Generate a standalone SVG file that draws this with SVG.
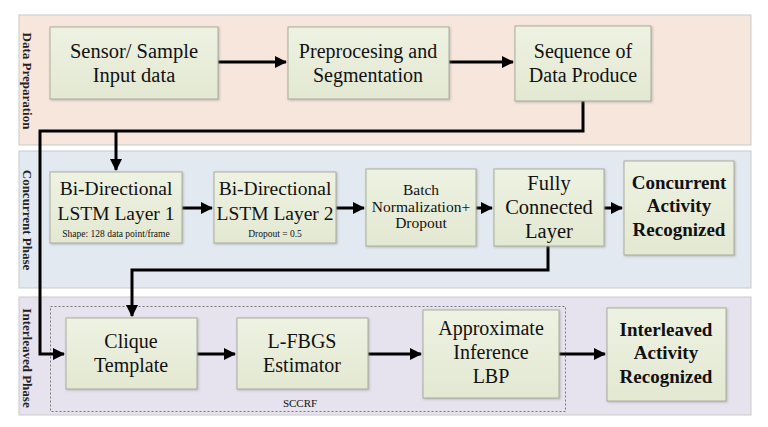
<svg xmlns="http://www.w3.org/2000/svg" width="768" height="427" viewBox="0 0 768 427">
<style>
.band{stroke:#c9c9c9;stroke-width:1}
.box{fill:url(#g);stroke:#a9ad9c;stroke-width:1;filter:url(#sh)}
.t{font-family:"Liberation Serif","DejaVu Serif",serif;fill:#111;text-anchor:middle}
.lab{font-family:"Liberation Serif","DejaVu Serif",serif;font-weight:bold;font-size:13px;fill:#222;text-anchor:middle}
.c{fill:none;stroke:#000;stroke-width:3}
</style>
<defs>
<linearGradient id="g" x1="0" y1="0" x2="0" y2="1">
<stop offset="0" stop-color="#eef2e2"/>
<stop offset="1" stop-color="#e3e8d2"/>
</linearGradient>
<filter id="sh" x="-10%" y="-10%" width="120%" height="120%">
<feDropShadow dx="1" dy="1" stdDeviation="0.8" flood-color="#888" flood-opacity="0.5"/>
</filter>
<marker id="ah" markerUnits="userSpaceOnUse" markerWidth="12" markerHeight="12" refX="11" refY="6" orient="auto">
<path d="M0,0 L12,6 L0,12 Z" fill="#000"/>
</marker>
</defs>
<rect width="768" height="427" fill="#fff"/>
<g id="bands">
<rect class="band" x="19" y="15" width="732" height="130" fill="#f6e6dc"/>
<rect class="band" x="19" y="151" width="732" height="137" fill="#e3e9f1"/>
<rect class="band" x="19" y="297" width="732" height="118" fill="#e6e3ee"/>
<rect x="50.5" y="306.5" width="515" height="105" fill="none" stroke="#777" stroke-width="1" stroke-dasharray="2,2"/>
<text class="lab" transform="translate(23,81) rotate(90)">Data Preparation</text>
<text class="lab" transform="translate(23,220) rotate(90)">Concurrent Phase</text>
<text class="lab" transform="translate(23,358) rotate(90)">Interleaved Phase</text>
<text class="t" x="300" y="407" font-size="11">SCCRF</text>
</g>
<g id="connectors">
<path class="c" d="M218,62 H286" marker-end="url(#ah)"/>
<path class="c" d="M449,62 H513" marker-end="url(#ah)"/>
<path class="c" d="M583,101 V131 H40 V354 H64" marker-end="url(#ah)"/>
<path class="c" d="M116,131 V170" marker-end="url(#ah)"/>
<path class="c" d="M182,208 H212" marker-end="url(#ah)"/>
<path class="c" d="M336,208 H364" marker-end="url(#ah)"/>
<path class="c" d="M476,208 H492" marker-end="url(#ah)"/>
<path class="c" d="M604,208 H622" marker-end="url(#ah)"/>
<path class="c" d="M548,246 V270 H132 V316" marker-end="url(#ah)"/>
<path class="c" d="M197,354 H235" marker-end="url(#ah)"/>
<path class="c" d="M368,354 H421" marker-end="url(#ah)"/>
<path class="c" d="M559,354 H605" marker-end="url(#ah)"/>
</g>
<g id="sensor">
<rect class="box" x="50" y="27" width="168" height="72"/>
<text class="t" x="134" y="58" font-size="20.5">Sensor/ Sample</text>
<text class="t" x="134" y="82" font-size="20.5">Input data</text>
</g>
<g id="preproc">
<rect class="box" x="288" y="27" width="161" height="72"/>
<text class="t" x="368" y="58" font-size="20">Preprocesing and</text>
<text class="t" x="368" y="82" font-size="20">Segmentation</text>
</g>
<g id="sequence">
<rect class="box" x="515" y="26" width="136" height="75"/>
<text class="t" x="583" y="58" font-size="20">Sequence of</text>
<text class="t" x="583" y="82" font-size="20">Data Produce</text>
</g>
<g id="lstm1">
<rect class="box" x="50" y="172" width="132" height="71"/>
<text class="t" x="116" y="195" font-size="19.5">Bi-Directional</text>
<text class="t" x="116" y="220" font-size="19.5">LSTM Layer 1</text>
<text class="t" x="116" y="237" font-size="9.5">Shape: 128 data point/frame</text>
</g>
<g id="lstm2">
<rect class="box" x="214" y="172" width="122" height="71"/>
<text class="t" x="275" y="195" font-size="19.5">Bi-Directional</text>
<text class="t" x="275" y="220" font-size="19.5">LSTM Layer 2</text>
<text class="t" x="275" y="237" font-size="9.5">Dropout = 0.5</text>
</g>
<g id="batchnorm">
<rect class="box" x="366" y="169" width="110" height="77"/>
<text class="t" x="421" y="195" font-size="15.5">Batch</text>
<text class="t" x="421" y="212" font-size="15.5">Normalization+</text>
<text class="t" x="421" y="228" font-size="15.5">Dropout</text>
</g>
<g id="fc">
<rect class="box" x="494" y="169" width="110" height="77"/>
<text class="t" x="549" y="190" font-size="20.5">Fully</text>
<text class="t" x="549" y="214" font-size="20.5">Connected</text>
<text class="t" x="549" y="238" font-size="20.5">Layer</text>
</g>
<g id="concurrent">
<rect class="box" x="624" y="161" width="110" height="94"/>
<text class="t" x="679" y="189" font-size="19" font-weight="bold">Concurrent</text>
<text class="t" x="679" y="212" font-size="19" font-weight="bold">Activity</text>
<text class="t" x="679" y="236" font-size="19" font-weight="bold">Recognized</text>
</g>
<g id="clique">
<rect class="box" x="66" y="318" width="131" height="71"/>
<text class="t" x="131" y="348" font-size="20">Clique</text>
<text class="t" x="131" y="372" font-size="20">Template</text>
</g>
<g id="lfbgs">
<rect class="box" x="237" y="318" width="131" height="71"/>
<text class="t" x="302" y="348" font-size="20">L-FBGS</text>
<text class="t" x="302" y="372" font-size="20">Estimator</text>
</g>
<g id="approx">
<rect class="box" x="423" y="310" width="136" height="88"/>
<text class="t" x="491" y="335" font-size="20">Approximate</text>
<text class="t" x="491" y="359" font-size="20">Inference</text>
<text class="t" x="491" y="383" font-size="20">LBP</text>
</g>
<g id="interleaved">
<rect class="box" x="607" y="308" width="119" height="93"/>
<text class="t" x="666" y="336" font-size="19" font-weight="bold">Interleaved</text>
<text class="t" x="666" y="359" font-size="19" font-weight="bold">Activity</text>
<text class="t" x="666" y="383" font-size="19" font-weight="bold">Recognized</text>
</g>
</svg>
